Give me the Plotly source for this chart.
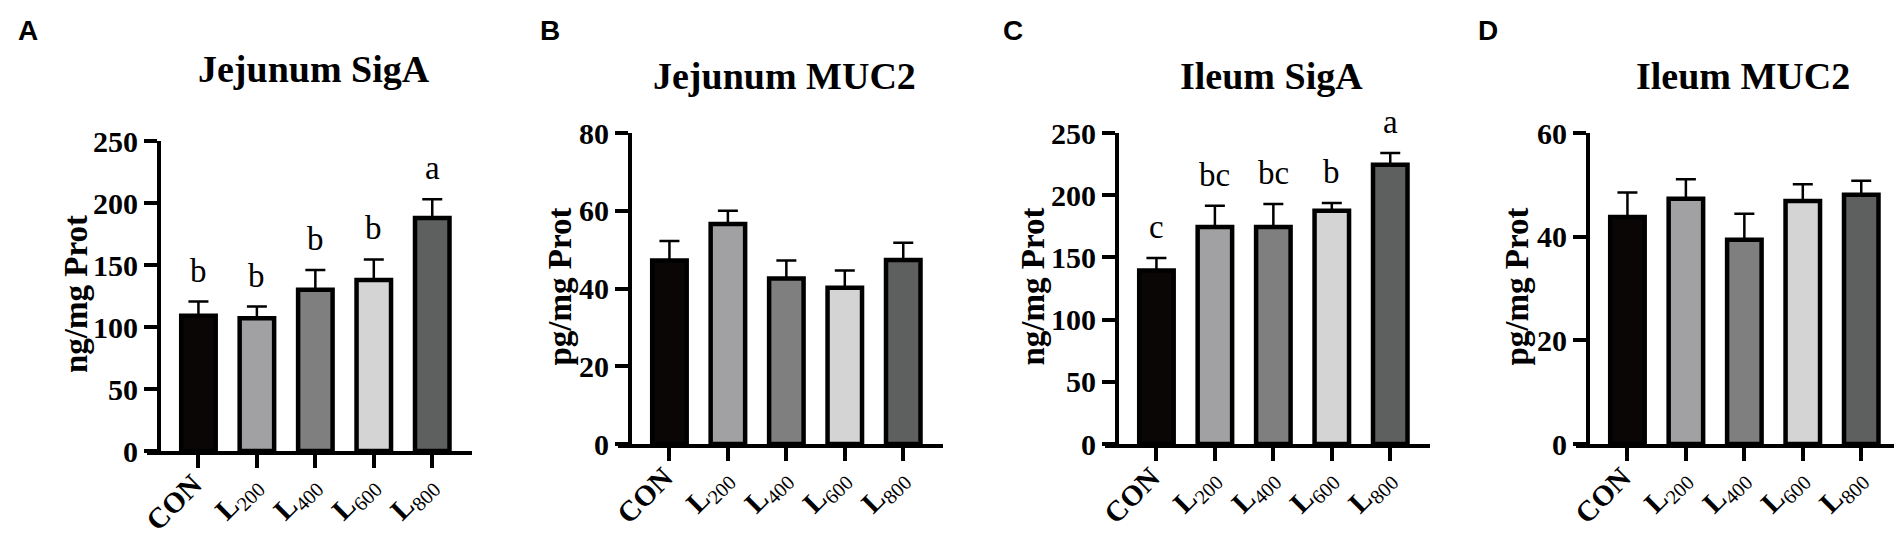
import plotly.graph_objects as go

# figure size in px
W, H = 1902, 533

groups = ["CON", "L200", "L400", "L600", "L800"]
tick_labels = ["<b>CON</b>", "<b>L</b><sub>200</sub>", "<b>L</b><sub>400</sub>",
               "<b>L</b><sub>600</sub>", "<b>L</b><sub>800</sub>"]
bar_colors = ["#0a0606", "#a1a1a3", "#7f7f80", "#d4d4d4", "#5e605f"]

# Jejunum SigA (ng/mg Prot)
jej_siga_mean = [109, 107, 130, 138, 188]
jej_siga_sem = [11.5, 9.5, 16, 16.5, 15]
jej_siga_letters = ["b", "b", "b", "b", "a"]

# Jejunum MUC2 (pg/mg Prot)
jej_muc2_mean = [47.2, 56.6, 42.6, 40.2, 47.3]
jej_muc2_sem = [5.0, 3.4, 4.6, 4.4, 4.5]

# Ileum SigA (ng/mg Prot)
ile_siga_mean = [139.5, 174.5, 174.5, 187.5, 224.5]
ile_siga_sem = [10, 17, 18.5, 6.2, 9.5]
ile_siga_letters = ["c", "bc", "bc", "b", "a"]

# Ileum MUC2 (pg/mg Prot)
ile_muc2_mean = [43.8, 47.3, 39.4, 46.9, 48.1]
ile_muc2_sem = [4.7, 3.8, 5.0, 3.2, 2.7]

panels = [
    dict(tag="A", title="Jejunum SigA", ylab="ng/mg Prot", mean=jej_siga_mean,
         sem=jej_siga_sem, letters=jej_siga_letters, ymax=250, dtick=50,
         left=139, top=133, bottom=443, title_y=61, ylab_dx=-83),
    dict(tag="B", title="Jejunum MUC2", ylab="pg/mg Prot", mean=jej_muc2_mean,
         sem=jej_muc2_sem, letters=None, ymax=80, dtick=20,
         left=610, top=125, bottom=436, title_y=68, ylab_dx=-71),
    dict(tag="C", title="Ileum SigA", ylab="ng/mg Prot", mean=ile_siga_mean,
         sem=ile_siga_sem, letters=ile_siga_letters, ymax=250, dtick=50,
         left=1097, top=125, bottom=436, title_y=68, ylab_dx=-85),
    dict(tag="D", title="Ileum MUC2", ylab="pg/mg Prot", mean=ile_muc2_mean,
         sem=ile_muc2_sem, letters=None, ymax=60, dtick=20,
         left=1568, top=125, bottom=436, title_y=68, ylab_dx=-72),
]
tag_x = [8, 530, 993, 1468]

serif = "Liberation Serif"
fig = go.Figure()
annos = []
panel_w = 325

for i, p in enumerate(panels):
    n = "" if i == 0 else str(i + 1)
    x0 = p["left"] / W
    x1 = (p["left"] + panel_w) / W
    y0 = 1 - p["bottom"] / H
    y1 = 1 - p["top"] / H
    yaxis_x = (p["left"] + 12) / W

    fig.add_trace(go.Bar(
        x=groups, y=p["mean"], width=0.59,
        marker=dict(color=bar_colors, line=dict(color="black", width=4.5)),
        error_y=dict(type="data", symmetric=False, array=p["sem"],
                     arrayminus=[0] * 5, color="black", thickness=2.5, width=10),
        xaxis="x" + n, yaxis="y" + n, showlegend=False,
    ))

    fig.layout["xaxis" + n] = dict(
        domain=[x0, x1], anchor="y" + n, range=[-0.88, 4.68],
        tickmode="array", tickvals=groups, ticktext=tick_labels, tickangle=-45,
        showline=True, linecolor="black", linewidth=4,
        ticks="outside", ticklen=13, tickwidth=4, tickcolor="black",
        tickfont=dict(family=serif, size=29, color="black"),
        ticklabelstandoff=-12, ticklabelshift=-5,
        showgrid=False, zeroline=False, fixedrange=True, automargin=False,
    )
    fig.layout["yaxis" + n] = dict(
        domain=[y0, y1], anchor="free", position=yaxis_x,
        range=[0, p["ymax"]], dtick=p["dtick"],
        showline=True, linecolor="black", linewidth=4,
        ticks="outside", ticklen=13, tickwidth=4, tickcolor="black",
        tickfont=dict(family=serif, size=30, color="black", weight="bold"),
        showgrid=False, zeroline=False, fixedrange=True, automargin=False,
    )

    # panel tag
    annos.append(dict(text="<b>" + p["tag"] + "</b>", xref="paper", yref="paper",
                      x=tag_x[i] / W, y=1 - 22 / H, xanchor="left", yanchor="middle",
                      showarrow=False,
                      font=dict(family="Liberation Sans", size=28, color="black")))
    # panel title
    annos.append(dict(text="<b>" + p["title"] + "</b>", xref="paper", yref="paper",
                      x=(p["left"] + panel_w / 2 + 4) / W, y=1 - p["title_y"] / H,
                      xanchor="center", yanchor="middle", showarrow=False,
                      font=dict(family=serif, size=38, color="black")))
    # y axis title
    annos.append(dict(text="<b>" + p["ylab"] + "</b>", xref="paper", yref="paper",
                      x=(p["left"] + 12 + p["ylab_dx"]) / W,
                      y=1 - ((p["top"] + p["bottom"]) / 2 - 2) / H,
                      xanchor="center", yanchor="middle", textangle=-90,
                      showarrow=False, font=dict(family=serif, size=33, color="black")))
    # significance letters
    if p["letters"]:
        for g, m, s, t in zip(groups, p["mean"], p["sem"], p["letters"]):
            annos.append(dict(text=t, x=g, y=m + s, xref="x" + n, yref="y" + n,
                              yshift=31, xanchor="center", yanchor="middle",
                              showarrow=False,
                              font=dict(family=serif, size=33, color="black")))

fig.update_layout(
    width=W, height=H,
    margin=dict(l=0, r=0, t=0, b=0, pad=0, autoexpand=False),
    paper_bgcolor="white", plot_bgcolor="white",
    bargap=0.4, annotations=annos,
)

fig.write_html("out.html")
